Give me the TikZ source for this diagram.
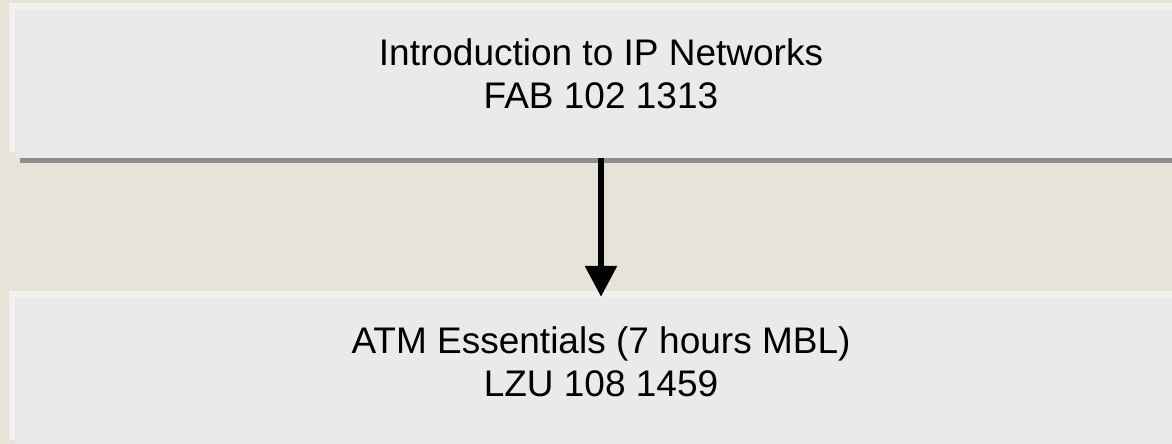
\documentclass[tikz,border=0pt]{standalone}
\usepackage{fontspec}
\setmainfont{Liberation Sans}
\usetikzlibrary{shadows,arrows.meta}
\definecolor{slidebg}{HTML}{E6E4D9}
\definecolor{boxfill}{HTML}{EAEAEA}
\definecolor{boxlight}{HTML}{F2F2F2}
\definecolor{boxshade}{HTML}{8E8E8E}
\tikzset{
  course/.style={fill=boxfill, minimum width=1172pt, minimum height=148.6pt,
    inner sep=0pt, align=center, text depth=19pt,
    font=\fontsize{37}{43}\selectfont,
    general shadow={fill=boxlight, shadow xshift=-6pt, shadow yshift=6pt},
    general shadow={fill=boxshade, shadow xshift=5pt, shadow yshift=-5.6pt}},
}
\begin{document}
\begin{tikzpicture}[x=1pt,y=-1pt]
\fill[slidebg] (0,0) rectangle (1172,444);
\useasboundingbox (0,0) rectangle (1172,444);
\node[course](intro) at (601, 83.3) {Introduction to IP Networks\\FAB 102 1313};
\node[course](atm) at (601, 371.3) {ATM Essentials (7 hours MBL)\\LZU 108 1459};
\draw[line width=6pt, -{Triangle[width=31pt,length=31pt]}] (intro) -- (atm);
\end{tikzpicture}
\end{document}
